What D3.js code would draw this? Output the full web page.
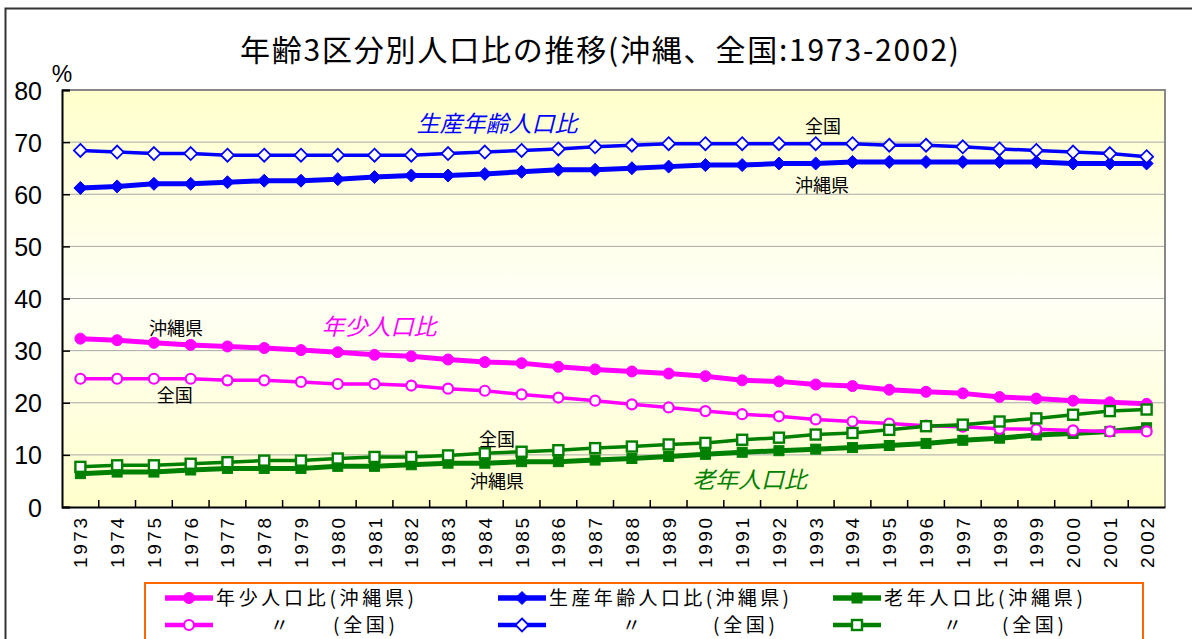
<!DOCTYPE html>
<html><head><meta charset="utf-8">
<script src="https://cdn.jsdelivr.net/npm/d3@7"></script>
<style>
html,body{margin:0;padding:0;background:#fff;}
svg{display:block;}
</style></head>
<body>
<svg id="c" width="1192" height="639"></svg>
<script>
const years = d3.range(1973, 2003);
const yTicks = [0,10,20,30,40,50,60,70,80];

const youthOkinawa = [32.3,32.0,31.5,31.1,30.8,30.5,30.1,29.7,29.2,28.9,28.3,27.8,27.6,26.9,26.4,
  26.0,25.6,25.1,24.3,24.1,23.5,23.2,22.5,22.1,21.8,21.1,20.8,20.4,20.1,19.8];
const workOkinawa = [61.2,61.5,62.0,62.0,62.3,62.6,62.6,62.9,63.3,63.6,63.6,63.9,64.3,64.7,64.7,
  65.0,65.3,65.6,65.6,65.9,65.9,66.2,66.2,66.2,66.2,66.2,66.2,65.9,65.9,65.9];
const elderOkinawa = [6.4,6.7,6.7,7.1,7.4,7.4,7.4,7.8,7.8,8.1,8.4,8.4,8.7,8.7,9.0,
  9.3,9.7,10.1,10.5,10.8,11.1,11.4,11.8,12.2,12.8,13.2,13.8,14.1,14.5,15.2];
const youthJapan = [24.6,24.6,24.6,24.6,24.3,24.3,24.0,23.6,23.6,23.3,22.7,22.3,21.6,21.0,20.4,
  19.7,19.1,18.4,17.8,17.4,16.8,16.4,16.0,15.6,15.4,15.0,14.9,14.7,14.5,14.5];
const workJapan = [68.4,68.1,67.8,67.8,67.5,67.5,67.5,67.5,67.5,67.5,67.8,68.1,68.4,68.7,69.1,
  69.4,69.7,69.7,69.7,69.7,69.7,69.7,69.4,69.4,69.1,68.7,68.4,68.1,67.8,67.2];
const elderJapan = [7.7,8.0,8.0,8.3,8.6,8.9,8.9,9.3,9.6,9.6,9.9,10.3,10.6,10.9,11.3,
  11.6,12.0,12.3,12.9,13.3,13.9,14.2,14.8,15.5,15.8,16.4,17.0,17.7,18.4,18.7];

const seriesNames = ["年少人口比(沖縄県)","生産年齢人口比(沖縄県)","老年人口比(沖縄県)"];
const titleText = "年齢3区分別人口比の推移(沖縄、全国:1973-2002)";

const annotations = [
  {text:"生産年齢人口比", year:1984.33, value:73.5, color:"#0000FF", italic:true, size:23},
  {text:"全国", year:1993.2, value:72.9, color:"#000", size:18},
  {text:"沖縄県", year:1993.17, value:61.6, color:"#000", size:18},
  {text:"沖縄県", year:1975.6, value:34.3, color:"#000", size:18},
  {text:"年少人口比", year:1981.12, value:34.5, color:"#FF00FF", italic:true, size:23},
  {text:"全国", year:1975.57, value:21.3, color:"#000", size:18},
  {text:"全国", year:1984.33, value:13.0, color:"#000", size:18},
  {text:"沖縄県", year:1984.33, value:4.8, color:"#000", size:18},
  {text:"老年人口比", year:1991.2, value:5.2, color:"#008000", italic:true, size:23}
];

const JP = "'Noto Sans CJK JP','Noto Sans',sans-serif";
const AR = "'Liberation Sans',Arial,sans-serif";

const svg = d3.select("#c");
const L = 62, R = 1165, T = 90, B = 507;

// outer chart border
svg.append("rect").attr("x",5.5).attr("y",8.5).attr("width",1200).attr("height",700)
  .attr("fill","#fff").attr("stroke","#333").attr("stroke-width",2);

const defs = svg.append("defs");
const grad = defs.append("linearGradient").attr("id","bg").attr("x1",0).attr("y1",0).attr("x2",0).attr("y2",1);
grad.append("stop").attr("offset","0%").attr("stop-color","#FFFFCC");
grad.append("stop").attr("offset","50%").attr("stop-color","#FFFFF6");
grad.append("stop").attr("offset","100%").attr("stop-color","#FFFFCC");

const x = d3.scaleBand().domain(years).range([L,R]).padding(0);
const cx = d => x(d) + x.bandwidth()/2;
const xLin = d3.scaleLinear().domain([1973,2002]).range([cx(1973), cx(2002)]);
const y = d3.scaleLinear().domain([0,80]).range([B,T]);

svg.append("rect").attr("x",L).attr("y",T).attr("width",R-L).attr("height",B-T).attr("fill","url(#bg)");

// gridlines
svg.append("g").selectAll("line").data(yTicks.filter(v=>v>0 && v<80)).join("line")
  .attr("x1",L).attr("x2",R).attr("y1",d=>y(d)).attr("y2",d=>y(d))
  .attr("stroke","#A8A8A8").attr("stroke-width",1);

// plot border top/right
svg.append("path").attr("d",`M${L},${T}H${R}V${B}`).attr("fill","none").attr("stroke","#888").attr("stroke-width",2);

// Y axis
const yAxis = svg.append("g").attr("transform",`translate(${L},0)`)
  .call(d3.axisLeft(y).tickValues(yTicks).tickSize(-8).tickPadding(20).tickFormat(d3.format("d")));
yAxis.select(".domain").attr("stroke","#000").attr("stroke-width",2);
yAxis.selectAll(".tick line").attr("stroke","#000").attr("stroke-width",1.5);
yAxis.selectAll("text").attr("font-family",AR).attr("font-size",25).attr("fill","#000").attr("dy","0.36em");

// X axis
const xAxis = svg.append("g").attr("transform",`translate(0,${B})`)
  .call(d3.axisBottom(x).tickSize(0).tickPadding(0));
xAxis.select(".domain").attr("stroke","#000").attr("stroke-width",2);
xAxis.selectAll(".tick text")
  .attr("font-family",AR).attr("font-size",19).attr("fill","#000")
  .attr("text-anchor","end").attr("dy",null).attr("y",0)
  .attr("transform","translate(7,11) rotate(-90)")
  .attr("textLength",50).attr("lengthAdjust","spacing");
// inner ticks at band boundaries
svg.append("g").selectAll("line").data(years.slice(1)).join("line")
  .attr("x1",d=>x(d)).attr("x2",d=>x(d)).attr("y1",B).attr("y2",B-7)
  .attr("stroke","#000").attr("stroke-width",1.5);

// % label
svg.append("text").attr("x",L).attr("y",82).attr("text-anchor","middle")
  .attr("font-family",AR).attr("font-size",23).text("%");

// title
svg.append("text").attr("x",599.5).attr("y",61).attr("text-anchor","middle")
  .attr("font-family",JP).attr("font-size",30).attr("fill","#000")
  .attr("textLength",719).attr("lengthAdjust","spacing").text(titleText);

// series
const series = [
  {vals:youthOkinawa, color:"#FF00FF", w:5, shape:"circle", filled:true},
  {vals:workOkinawa, color:"#0000FF", w:5, shape:"diamond", filled:true},
  {vals:elderOkinawa, color:"#008000", w:5, shape:"square", filled:true},
  {vals:youthJapan, color:"#FF00FF", w:3.5, shape:"circle", filled:false},
  {vals:workJapan, color:"#0000FF", w:3.5, shape:"diamond", filled:false},
  {vals:elderJapan, color:"#008000", w:3.5, shape:"square", filled:false}
];
const line = d3.line().x((d,i)=>cx(years[i])).y(d=>y(d));

function drawMarker(g, shape, filled, color) {
  if (shape==="circle") {
    g.append("circle").attr("r", filled?5.5:5)
      .attr("fill", filled?color:"#fff").attr("stroke",color).attr("stroke-width", filled?1:2.2);
  } else if (shape==="diamond") {
    const s = 6.5;
    g.append("path").attr("d",`M0,${-s}L${s},0L0,${s}L${-s},0Z`)
      .attr("fill", filled?color:"#fff").attr("stroke",color).attr("stroke-width", filled?1:1.8);
  } else {
    const s = 5;
    g.append("rect").attr("x",-s).attr("y",-s).attr("width",2*s).attr("height",2*s)
      .attr("fill", filled?color:"#fff").attr("stroke",color).attr("stroke-width", filled?1:2.4);
  }
}

series.forEach(s => {
  const g = svg.append("g");
  g.append("path").datum(s.vals).attr("d",line).attr("fill","none")
    .attr("stroke",s.color).attr("stroke-width",s.w).attr("stroke-linejoin","round");
  s.vals.forEach((v,i) => {
    const m = g.append("g").attr("transform",`translate(${cx(years[i])},${y(v)})`);
    drawMarker(m, s.shape, s.filled, s.color);
  });
});

// annotations
svg.append("g").selectAll("text").data(annotations).join("text")
  .attr("x",d=>xLin(d.year)).attr("y",d=>y(d.value)).attr("dy","0.36em")
  .attr("text-anchor","middle").attr("font-family",JP).attr("font-size",d=>d.size)
  .attr("font-style",d=>d.italic?"italic":"normal").attr("fill",d=>d.color).text(d=>d.text);

// legend
svg.append("rect").attr("x",145).attr("y",583).attr("width",998).attr("height",80)
  .attr("fill","#fff").attr("stroke","#FF6600").attr("stroke-width",2);
const legX = [165, 498, 833];
const legRowY = [598, 625];
const colors = ["#FF00FF","#0000FF","#008000"];
const shapes = ["circle","diamond","square"];
const nameLen = [198, 240, 199];
const dittoX = [270, 622, 943];
const zenkokuX = [333, 713, 1002];
for (let c=0;c<3;c++) {
  for (let r=0;r<2;r++) {
    const g = svg.append("g");
    g.append("line").attr("x1",legX[c]).attr("x2",legX[c]+48).attr("y1",legRowY[r]).attr("y2",legRowY[r])
      .attr("stroke",colors[c]).attr("stroke-width", r===0?5.5:4.5);
    const m = g.append("g").attr("transform",`translate(${legX[c]+24},${legRowY[r]})`);
    drawMarker(m, shapes[c], r===0, colors[c]);
  }
  svg.append("text").attr("x",legX[c]+51).attr("y",legRowY[0]).attr("dy","0.35em")
    .attr("font-family",JP).attr("font-size",19).attr("textLength",nameLen[c])
    .attr("lengthAdjust","spacing").text(seriesNames[c]);
  svg.append("text").attr("x",dittoX[c]).attr("y",legRowY[1]).attr("dy","0.35em")
    .attr("font-family",JP).attr("font-size",19).text("〃");
  svg.append("text").attr("x",zenkokuX[c]).attr("y",legRowY[1]).attr("dy","0.35em")
    .attr("font-family",JP).attr("font-size",19).attr("textLength",62)
    .attr("lengthAdjust","spacing").text("(全国)");
}
</script>
</body></html>
